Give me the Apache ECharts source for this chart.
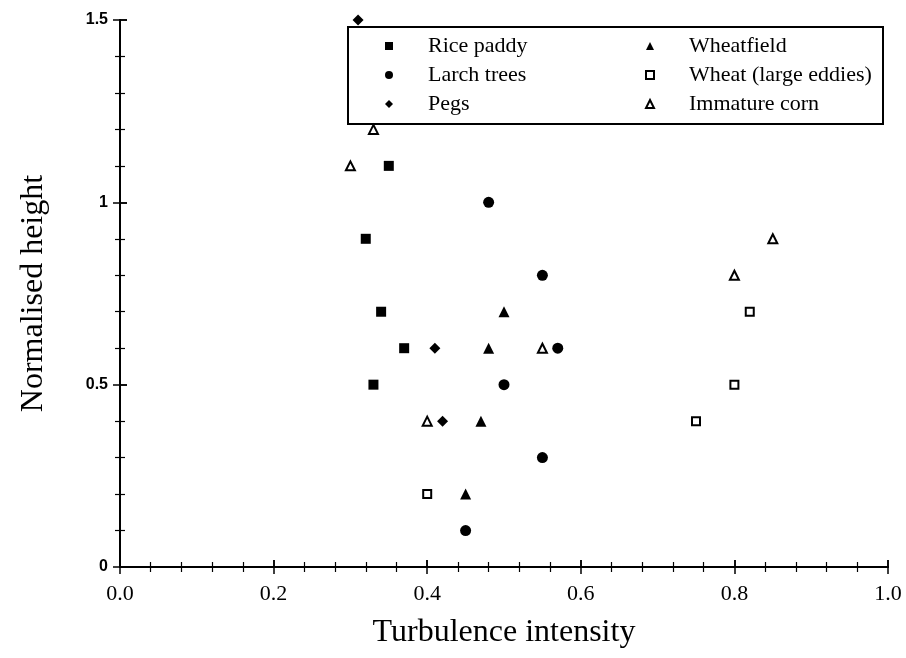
<!DOCTYPE html>
<html>
<head>
<meta charset="utf-8">
<script src="https://cdn.jsdelivr.net/npm/echarts@6/dist/echarts.min.js"></script>
<style>html,body{margin:0;padding:0;background:#fff}#c{width:906px;height:658px}</style>
</head>
<body>
<div id="c"></div>
<script>
// Data: [turbulence intensity, normalised height]
const ricePaddy = [[0.35, 1.1], [0.32, 0.9], [0.34, 0.7], [0.37, 0.6], [0.33, 0.5]];
const larchTrees = [[0.48, 1.0], [0.55, 0.8], [0.57, 0.6], [0.50, 0.5], [0.55, 0.3], [0.45, 0.1]];
const pegs = [[0.31, 1.5], [0.41, 0.6], [0.42, 0.4]];
const wheatfield = [[0.50, 0.7], [0.48, 0.6], [0.47, 0.4], [0.45, 0.2]];
const wheatLargeEddies = [[0.82, 0.7], [0.80, 0.5], [0.75, 0.4], [0.40, 0.2]];
const immatureCorn = [[0.33, 1.2], [0.30, 1.1], [0.85, 0.9], [0.80, 0.8], [0.55, 0.6], [0.40, 0.4]];
const seriesNames = ['Rice paddy', 'Larch trees', 'Pegs', 'Wheatfield', 'Wheat (large eddies)', 'Immature corn'];
const xTicks = [0, 0.2, 0.4, 0.6, 0.8, 1.0];
const yTicks = [0, 0.5, 1, 1.5];

const serif = 'Liberation Serif';
const chart = echarts.init(document.getElementById('c'), null, {renderer: 'canvas'});

function xAxisDef(pos, inside, withMinor, show) {
  return {
    type: 'value', position: pos, min: xTicks[0], max: xTicks[xTicks.length - 1], interval: 0.2,
    axisLine: {show: show, lineStyle: {color: '#000', width: 2}},
    axisTick: {show: true, inside: inside, length: 7, lineStyle: {color: '#000', width: 1.5}},
    minorTick: {show: withMinor, splitNumber: 5, length: 5, lineStyle: {color: '#000', width: 1.2}},
    axisLabel: {show: false}, splitLine: {show: false}
  };
}
function yAxisDef(pos, inside, withMinor, show) {
  return {
    type: 'value', position: pos, min: yTicks[0], max: yTicks[yTicks.length - 1], interval: 0.5,
    axisLine: {show: show, lineStyle: {color: '#000', width: 2}},
    axisTick: {show: true, inside: inside, length: 7, lineStyle: {color: '#000', width: 1.5}},
    minorTick: {show: withMinor, splitNumber: 5, length: 5, lineStyle: {color: '#000', width: 1.2}},
    axisLabel: {show: false}, splitLine: {show: false}
  };
}

const xMain = xAxisDef('bottom', true, true, true);
xMain.axisLabel = {show: true, margin: 16, color: '#000', fontFamily: serif, fontSize: 22,
  formatter: v => v.toFixed(1)};
xMain.name = 'Turbulence intensity';
xMain.nameLocation = 'middle';
xMain.nameGap = 50;
xMain.nameTextStyle = {fontFamily: serif, fontSize: 32, color: '#000'};

const yMain = yAxisDef('left', true, true, true);
yMain.axisLabel = {show: true, margin: 12, color: '#000', fontFamily: 'Liberation Sans', fontWeight: 'bold', fontSize: 16,
  formatter: v => String(v)};
yMain.name = 'Normalised height';
yMain.nameLocation = 'middle';
yMain.nameGap = 70;
yMain.nameTextStyle = {fontFamily: serif, fontSize: 32, color: '#000'};

const styles = {
  'Rice paddy': {symbol: 'rect', size: 10, item: {color: '#000', opacity: 1}},
  'Larch trees': {symbol: 'circle', size: 11, item: {color: '#000', opacity: 1}},
  'Pegs': {symbol: 'diamond', size: 11, item: {color: '#000', opacity: 1}},
  'Wheatfield': {symbol: 'triangle', size: 11, item: {color: '#000', opacity: 1}},
  'Wheat (large eddies)': {symbol: 'rect', size: 8, item: {color: '#fff', borderColor: '#000', borderWidth: 2, opacity: 1}},
  'Immature corn': {symbol: 'triangle', size: 9, item: {color: '#fff', borderColor: '#000', borderWidth: 2, opacity: 1}}
};
const dataByName = {
  'Rice paddy': ricePaddy, 'Larch trees': larchTrees, 'Pegs': pegs,
  'Wheatfield': wheatfield, 'Wheat (large eddies)': wheatLargeEddies, 'Immature corn': immatureCorn
};

const legendCommon = {
  orient: 'vertical', padding: 0, itemGap: 7, itemWidth: 8, itemHeight: 8,
  textStyle: {fontFamily: serif, fontSize: 22, color: '#000', padding: [0, 0, 0, 30]}, selectedMode: false
};

chart.setOption({
  animation: false,
  backgroundColor: '#fff',
  grid: {left: 120, right: 18, top: 20, bottom: 91},
  xAxis: [xMain, xAxisDef('bottom', false, false, false), xAxisDef('top', true, true, true), xAxisDef('top', false, false, false)],
  yAxis: [yMain, yAxisDef('left', false, false, false), yAxisDef('right', true, true, true), yAxisDef('right', false, false, false)],
  legend: [
    Object.assign({left: 385, top: 35, data: seriesNames.slice(0, 3)}, legendCommon),
    Object.assign({left: 645, top: 35, data: seriesNames.slice(3)}, legendCommon)
  ],
  graphic: [{
    type: 'rect', shape: {x: 348, y: 27, width: 535, height: 97}, z: 100,
    style: {fill: 'none', stroke: '#000', lineWidth: 2}
  }],
  series: seriesNames.map(n => ({
    name: n, type: 'scatter', xAxisIndex: 0, yAxisIndex: 0,
    symbol: styles[n].symbol, symbolSize: styles[n].size, itemStyle: styles[n].item,
    clip: false, data: dataByName[n], z: 5
  }))
});
</script>
</body>
</html>
